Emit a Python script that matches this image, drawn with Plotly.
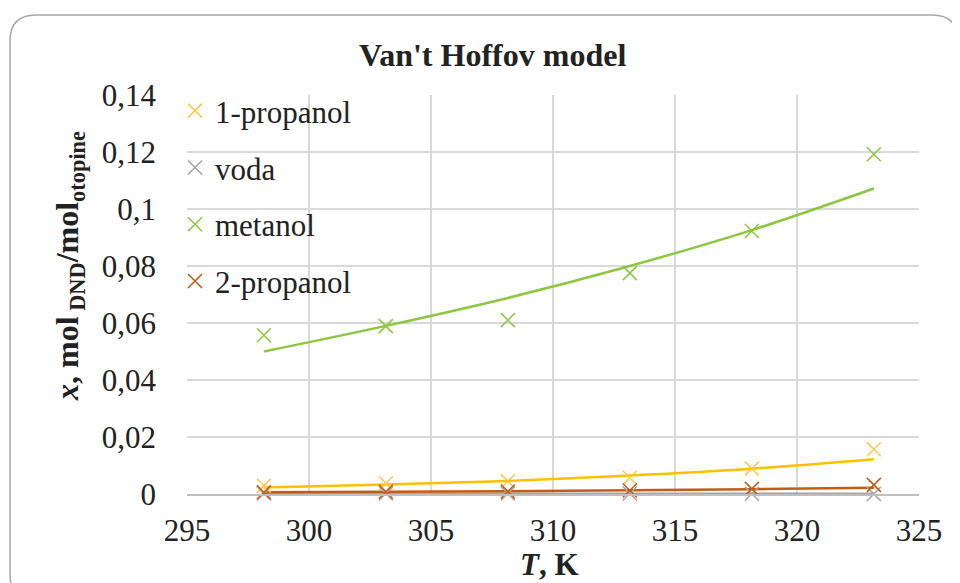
import plotly.graph_objects as go

T = [298.15, 303.15, 308.15, 313.15, 318.15, 323.15]

# experimental points
exp_1propanol = [0.0029, 0.0038, 0.0045, 0.0057, 0.0089, 0.0157]
exp_voda = [0.0002, 0.0002, 0.0002, 0.0002, 0.0001, 0.0000]
exp_metanol = [0.0557, 0.0589, 0.0610, 0.0775, 0.0923, 0.1192]
exp_2propanol = [0.0006, 0.0008, 0.0009, 0.0012, 0.0018, 0.0032]

# Van't Hoff model
mod_1propanol = [0.0023, 0.0033, 0.0046, 0.0065, 0.0089, 0.0122]
mod_voda = [0.0001, 0.0001, 0.0001, 0.0001, 0.0001, 0.0001]
mod_metanol = [0.0500, 0.0590, 0.0688, 0.0800, 0.0926, 0.1072]
mod_2propanol = [0.0006, 0.0008, 0.0010, 0.0013, 0.0017, 0.0022]

x_ticks = [295, 300, 305, 310, 315, 320, 325]

names = ["1-propanol", "voda", "metanol", "2-propanol"]
marker_colors = ["#FFC845", "#A5A5A5", "#8DC63F", "#C55A11"]
line_colors = ["#FFC000", "#A5A5A5", "#8DC63F", "#C55A11"]
exp_sets = [exp_1propanol, exp_voda, exp_metanol, exp_2propanol]
mod_sets = [mod_1propanol, mod_voda, mod_metanol, mod_2propanol]

FONT = "Liberation Serif"
TXT = "#222222"

# the page has an 8 px body margin, so figure coords = page coords - 8
OFF = 8
W, H = 960 - OFF, 583 - OFF
L, R, TOP, BOT = 187 - OFF, 919 - OFF, 95 - OFF, 494 - OFF
pw = R - L
ph = BOT - TOP


def px2paper(x, y):
    """page pixel -> paper coords"""
    x -= OFF
    y -= OFF
    return (x - L) / pw, (BOT - y) / ph


fig = go.Figure()

# model lines (no legend)
for i in [1, 0, 3, 2]:
    fig.add_trace(go.Scatter(
        x=T, y=mod_sets[i], mode="lines", line=dict(color=line_colors[i], width=2.5, shape="spline"),
        showlegend=False, hoverinfo="skip", cliponaxis=False))

# experimental markers
for i in range(4):
    fig.add_trace(go.Scatter(
        x=T, y=exp_sets[i], mode="markers", name=names[i], legendgroup=names[i],
        marker=dict(symbol="x-thin", size=14, line=dict(color=marker_colors[i], width=1.5)),
        cliponaxis=False))

# rounded border of the chart area (page pixels)
x0, y0, x1, y1, r = 10, 15, 958, 600, 26


def P(x, y):
    a, b = px2paper(x, y)
    return f"{a:.5f},{b:.5f}"


path = (f"M {P(x0, y0 + r)} Q {P(x0, y0)} {P(x0 + r, y0)} L {P(x1 - r, y0)} "
        f"Q {P(x1, y0)} {P(x1, y0 + r)} L {P(x1, y1 - r)} Q {P(x1, y1)} {P(x1 - r, y1)} "
        f"L {P(x0 + r, y1)} Q {P(x0, y1)} {P(x0, y1 - r)} Z")
fig.add_shape(type="path", path=path, xref="paper", yref="paper",
              line=dict(color="#A6A6A6", width=1.5), layer="below")

# titles as annotations (page pixel positions)
tx, ty = px2paper(492, 55)
fig.add_annotation(text="<b>Van't Hoffov model</b>", x=tx, y=ty, xref="paper", yref="paper",
                   xanchor="center", yanchor="middle", showarrow=False,
                   font=dict(family=FONT, size=32, color=TXT))
ax_, ay_ = px2paper(549, 564)
fig.add_annotation(text="<b><i>T</i>, K</b>", x=ax_, y=ay_, xref="paper", yref="paper",
                   xanchor="center", yanchor="middle", showarrow=False,
                   font=dict(family=FONT, size=31, color=TXT))
yx, yy = px2paper(69, 266)
fig.add_annotation(text="<b><i>x</i>, mol<sub> DND</sub>/mol<sub>otopine</sub></b>", x=yx, y=yy,
                   xref="paper", yref="paper", textangle=-90,
                   xanchor="center", yanchor="middle", showarrow=False,
                   font=dict(family=FONT, size=32, color=TXT))

lx, ly = px2paper(175, 84)

fig.update_layout(
    width=W, height=H,
    margin=dict(l=L, r=W - R, t=TOP, b=H - BOT),
    paper_bgcolor="white", plot_bgcolor="white",
    separators=", ",
    font=dict(family=FONT, size=31, color=TXT),
    legend=dict(x=lx, y=ly, xanchor="left", yanchor="top", bgcolor="rgba(0,0,0,0)",
                font=dict(family=FONT, size=31, color=TXT),
                traceorder="grouped", tracegroupgap=13.5, itemwidth=30),
    showlegend=True,
)

fig.update_xaxes(range=[295, 325], tickvals=x_ticks, showgrid=True, gridcolor="#D9D9D9", gridwidth=1.5,
                 zeroline=False, showline=True, linecolor="#BFBFBF", linewidth=2, ticks="",
                 ticklabelstandoff=8,
                 tickfont=dict(family=FONT, size=31, color=TXT))
fig.update_yaxes(range=[0, 0.14], dtick=0.02, showgrid=True, gridcolor="#D9D9D9", gridwidth=1.5,
                 zeroline=False, showline=False, ticks="", ticklabelstandoff=30,
                 tickfont=dict(family=FONT, size=31, color=TXT))

fig.write_html("out.html")
